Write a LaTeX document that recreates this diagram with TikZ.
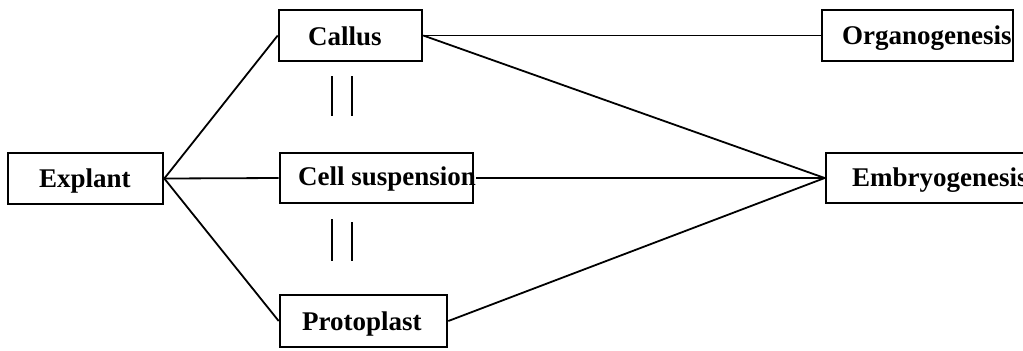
\documentclass[tikz,border=0pt]{standalone}
\usepackage{fontspec}
\setmainfont{Liberation Serif}
\usepackage{tikz}

\tikzset{
  box/.style={draw, line width=1.3pt, minimum height=25.5pt, inner sep=0pt},
  lbl/.style={font=\fontsize{13.5}{16}\selectfont\bfseries, inner sep=0pt, anchor=base west},
  link/.style={line width=0.9pt},
  bar/.style={line width=0.7pt}
}

\begin{document}
\begin{tikzpicture}[x=0.5pt, y=-0.5pt]
                \useasboundingbox (0,0) rectangle (1023,350);
                \clip (0,0) rectangle (1023,350);

                % Boxes
                \node[box, minimum width=77.5pt] (explant) at (85.5,178.5) {};
                \node[box, minimum width=71.5pt] (callus) at (350.5,35.5) {};
                \node[box, minimum width=96.5pt, minimum height=25pt] (cell) at (376.5,178) {};
                \node[box, minimum width=83.5pt, minimum height=26pt] (proto) at (363.5,321) {};
                \node[box, minimum width=95.5pt] (organo) at (917.5,35.5) {};
                \node[box, minimum width=107.5pt, minimum height=25pt] (embryo) at (933.5,178) {};

                % Labels
                \node[lbl] (explanttxt) at ([xshift=16pt, yshift=-4.25pt]explant.west) {Explant};
                \node[lbl] (callustxt) at ([xshift=15pt, yshift=-4.75pt]callus.west) {Callus};
                \node[lbl] (celltxt) at ([xshift=9.5pt, yshift=-3.75pt]cell.west) {Cell suspension};
                \node[lbl] (prototxt) at ([xshift=11.5pt, yshift=-4.5pt]proto.west) {Protoplast};
                \node[lbl] (organotxt) at ([xshift=10.5pt, yshift=-4.25pt]organo.west) {Organogenesis};
                \node[lbl] (embryotxt) at ([xshift=13.5pt, yshift=-4.25pt]embryo.west) {Embryogenesis};

                % Links
                \draw[link] (explant.east) -- (callus.west);
                \draw[link] (explant.east) -- (cell.west);
                \draw[link] (explant.east) -- (proto.west);
                \draw[link] (callus.east) -- (organo.west);
                \draw[link] (callus.east) -- (embryo.west);
                \draw[link] (celltxt.east |- cell.east) -- (embryo.west);
                \draw[link] (proto.east) -- (embryo.west);

                % Equivalence bars
                \draw[bar] (332,76) -- (332,116);
                \draw[bar] (352,76) -- (352,116);
                \draw[bar] (332,219) -- (332,261);
                \draw[bar] (352,222) -- (352,261);
            \end{tikzpicture}
\end{document}
